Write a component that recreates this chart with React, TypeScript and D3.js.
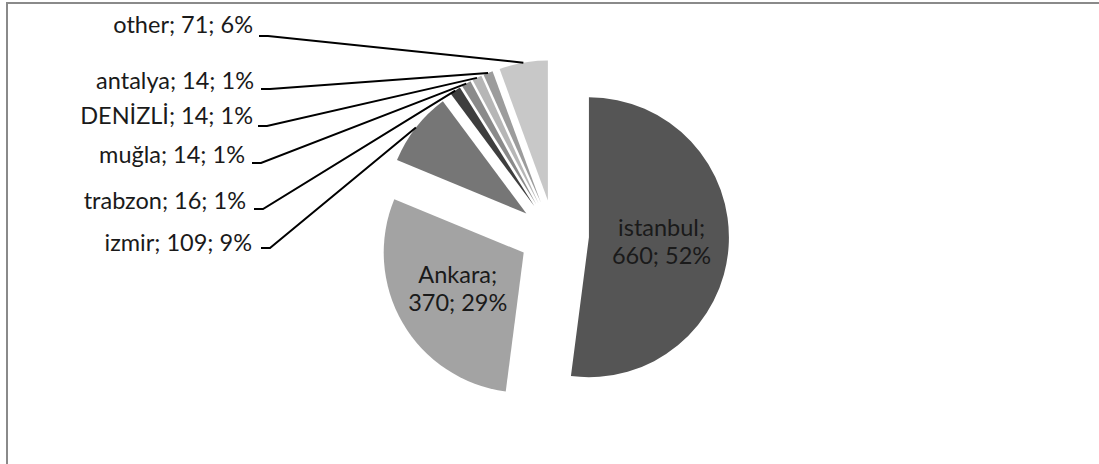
import React from "react";
import * as d3 from "d3";

const categories = ["istanbul", "Ankara", "izmir", "trabzon", "muğla", "DENİZLİ", "antalya", "other"];
const values = [660, 370, 109, 16, 14, 14, 14, 71];
const percentLabels = ["52%", "29%", "9%", "1%", "1%", "1%", "1%", "6%"];
const colors = ["#555555", "#a3a3a3", "#767676", "#3e3e3e", "#8a8a8a", "#b6b6b6", "#9c9c9c", "#c8c8c8"];

// layout for outside labels (index into categories): [index, textEndX, baselineY, leaderStartX, leaderStartY]
const outsideLabels: [number, number, number, number, number][] = [
  [7, 253, 33, 259, 36],
  [6, 254, 89, 261, 89],
  [5, 253, 124, 258, 126],
  [4, 245, 163, 252, 163],
  [3, 246, 209, 254, 209],
  [2, 252, 251, 261, 248],
];

const W = 1099;
const H = 464;
const CX = 554;
const CY = 235;
const R = 140;
const EXPLODE = 35;
const FONT = "Lato, 'Open Sans', sans-serif";
const FS = 23.5;

export default function App() {
  const pie = d3
    .pie<number>()
    .sort(null)
    .value((d) => d)
    .startAngle(0)
    .endAngle(2 * Math.PI);
  const arcs = pie(values);
  const arc = d3.arc<d3.PieArcDatum<number>>().innerRadius(0).outerRadius(R);

  const mid = (a: d3.PieArcDatum<number>) => (a.startAngle + a.endAngle) / 2;
  const dirOf = (a: d3.PieArcDatum<number>) => {
    const m = mid(a);
    return [Math.sin(m), -Math.cos(m)];
  };

  return (
    <svg width={W} height={H} style={{ position: "absolute", left: 0, top: 0, background: "#fff" }}>
      <rect x={7} y={3} width={W + 20} height={H + 20} fill="#fff" stroke="#8a8a8a" strokeWidth={2} />
      <g transform={`translate(${CX},${CY})`}>
        {arcs.map((a, i) => {
          const [dx, dy] = dirOf(a);
          return (
            <path
              key={i}
              d={arc(a) || ""}
              fill={colors[i]}
              transform={`translate(${dx * EXPLODE},${dy * EXPLODE})`}
            />
          );
        })}
        {[0, 1].map((i) => {
          const a = arcs[i];
          const [dx, dy] = dirOf(a);
          const rr = EXPLODE + R * 0.52;
          const x = dx * rr - (i === 1 ? 3 : 0);
          const y = dy * rr;
          return (
            <text
              key={i}
              x={x}
              y={y}
              textAnchor="middle"
              fontFamily={FONT}
              fontSize={FS}
              fill="#1a1a1a"
            >
              <tspan x={x} dy={-6}>{`${categories[i]};`}</tspan>
              <tspan x={x} dy={28}>{`${values[i]}; ${percentLabels[i]}`}</tspan>
            </text>
          );
        })}
      </g>
      {outsideLabels.map(([i, tx, ty, lx, ly]) => {
        const a = arcs[i];
        const [dx, dy] = dirOf(a);
        const ex = CX + dx * (EXPLODE + R);
        const ey = CY + dy * (EXPLODE + R);
        const pts: [number, number][] = [
          [lx, ly],
          [lx + 9, ly],
          [ex, ey],
        ];
        return (
          <g key={i}>
            <text x={tx} y={ty} textAnchor="end" fontFamily={FONT} fontSize={FS} fill="#1a1a1a">
              {`${categories[i]}; ${values[i]}; ${percentLabels[i]}`}
            </text>
            <path d={d3.line()(pts) || ""} fill="none" stroke="#000" strokeWidth={2} />
          </g>
        );
      })}
    </svg>
  );
}
